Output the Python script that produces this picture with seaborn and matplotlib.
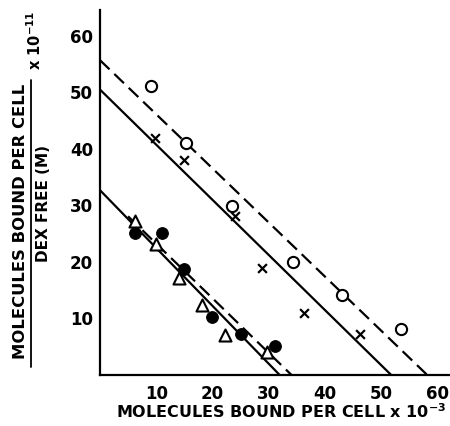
import matplotlib
matplotlib.use("Agg")
import matplotlib.pyplot as plt
import seaborn as sns
import numpy as np
import pandas as pd

# ---- data ----
open_x = [9.1, 15.2, 23.4, 34.2, 42.9, 53.5]
open_y = [51.1, 41.0, 29.8, 20.0, 14.2, 8.1]

cross_x = [9.7, 14.9, 24.0, 28.7, 36.3, 46.2]
cross_y = [41.9, 38.0, 28.2, 18.9, 10.9, 7.2]

filled_x = [6.2, 11.1, 15.0, 19.9, 25.1, 31.0]
filled_y = [25.1, 25.1, 18.8, 10.2, 7.3, 5.1]

tri_x = [6.2, 10.0, 14.1, 18.1, 22.2, 29.7]
tri_y = [27.2, 23.2, 17.2, 12.3, 7.0, 4.1]

# fitted lines: (start x, y-intercept, x-intercept)
line_names = ["upper_dashed", "upper_solid", "lower_solid", "lower_dashed"]
line_start = [0.0, 0.0, 0.0, 5.0]
line_yint = [55.7, 50.5, 32.7, 32.9]
line_xint = [58.1, 51.7, 31.9, 34.0]
line_dashed = [True, False, False, True]

xticks = [10, 20, 30, 40, 50, 60]
yticks = [10, 20, 30, 40, 50, 60]

sns.set_theme(style="white")
plt.rcParams['font.family'] = ['DejaVu Sans']
plt.rcParams['text.color'] = 'black'

fig = plt.figure(figsize=(4.5, 4.26), dpi=100)
ax = fig.add_axes([0.222, 0.12, 0.776, 0.857])

# lines
for name, x0, b, xi, d in zip(line_names, line_start, line_yint, line_xint, line_dashed):
    df = pd.DataFrame({"x": [x0, xi], "y": [b - b / xi * x0, 0.0]})
    ls = (0, (6, 3)) if d else "-"
    sns.lineplot(data=df, x="x", y="y", ax=ax, color="black", lw=1.6,
                 linestyle=ls, estimator=None, sort=False)

sns.scatterplot(x=open_x, y=open_y, ax=ax, marker="o", s=65, facecolor="white",
                edgecolor="black", linewidth=1.5, zorder=3)
sns.scatterplot(x=cross_x, y=cross_y, ax=ax, marker="x", s=40, color="black",
                linewidth=1.6, zorder=3)
sns.scatterplot(x=filled_x, y=filled_y, ax=ax, marker="o", s=72, color="black",
                edgecolor="black", zorder=3)
sns.scatterplot(x=tri_x, y=tri_y, ax=ax, marker="^", s=75, facecolor="white",
                edgecolor="black", linewidth=1.5, zorder=3)

ax.set_xlim(0, 62)
ax.set_ylim(0, 64.6)
ax.set_xticks(xticks)
ax.set_yticks(yticks)
ax.set_xticklabels([str(t) for t in xticks], fontsize=12, fontweight="bold")
ax.set_yticklabels([str(t) for t in yticks], fontsize=12, fontweight="bold")
ax.tick_params(direction="in", length=5, width=1.5, colors="black", pad=5)
ax.tick_params(axis="x", pad=7)
for s in ["top", "right"]:
    ax.spines[s].set_visible(False)
for s in ["left", "bottom"]:
    ax.spines[s].set_linewidth(1.6)
    ax.spines[s].set_color("black")

ax.set_xlabel("")
ax.set_ylabel("")
fig.text(0.625, 0.012, r"MOLECULES BOUND PER CELL x 10$^{\mathbf{-3}}$", ha="center", va="bottom",
         fontsize=11.5, fontweight="bold", color="black")

# y label as a fraction
fig.text(20.5 / 450, 1 - 221 / 426, "MOLECULES BOUND PER CELL", rotation=90,
         ha="center", va="center", fontsize=11.8, fontweight="bold", color="black")
fig.add_artist(plt.Line2D([30.5 / 450, 30.5 / 450], [1 - 367 / 426, 1 - 80 / 426],
                          color="black", lw=1.3))
fig.text(43 / 450, 1 - 204 / 426, "DEX FREE (M)", rotation=90,
         ha="center", va="center", fontsize=11, fontweight="bold", color="black")
fig.text(35 / 450, 1 - 40 / 426, r"x 10$^{\mathbf{-11}}$", rotation=90,
         ha="center", va="center", fontsize=10.5, fontweight="bold", color="black")

fig.savefig("out.png", dpi=100)
